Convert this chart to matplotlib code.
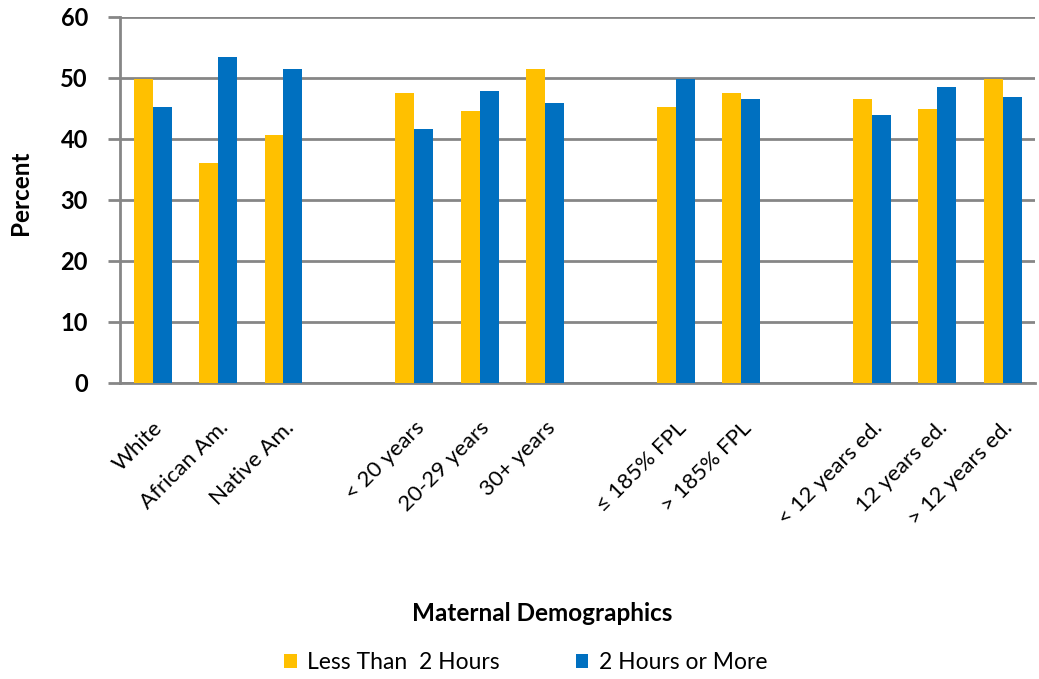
import matplotlib
matplotlib.use("Agg")
import matplotlib.pyplot as plt
from matplotlib.patches import Patch
import numpy as np

plt.rcParams['font.family'] = ['Lato', 'DejaVu Sans']

# categories, "" marks an empty slot between groups
categories = ["White", "African Am.", "Native Am.", "",
              "< 20 years", "20-29 years", "30+ years", "",
              "\u2264 185% FPL", "> 185% FPL", "",
              "< 12 years ed.", "12 years ed.", "> 12 years ed."]
lessThan2 = [49.9, 36.1, 40.7, None, 47.5, 44.6, 51.5, None, 45.2, 47.5, None, 46.6, 44.9, 49.9]
twoOrMore = [45.2, 53.4, 51.5, None, 41.6, 47.9, 45.9, None, 49.9, 46.6, None, 43.9, 48.5, 46.9]
series_names = ["Less Than  2 Hours", "2 Hours or More"]

yellow = "#FFC000"
blue = "#0070C0"
grey = "#868686"

fig = plt.figure(figsize=(10.39, 6.79), dpi=100)
ax = fig.add_axes([0.1155, 0.436, 0.881, 0.539])

x = np.arange(len(categories))
idx = [i for i, c in enumerate(categories) if c != ""]
w = 0.29
ax.bar([x[i] - w / 2 for i in idx], [lessThan2[i] for i in idx], w, color=yellow, zorder=3)
ax.bar([x[i] + w / 2 for i in idx], [twoOrMore[i] for i in idx], w, color=blue, zorder=3)

ax.set_xlim(-0.5, len(categories) - 0.5)
ax.set_ylim(0, 60)
ax.set_yticks(range(0, 61, 10))
ax.yaxis.grid(True, color=grey, linewidth=2, zorder=0)
for s in ["top", "right"]:
    ax.spines[s].set_visible(False)
for s in ["left", "bottom"]:
    ax.spines[s].set_color(grey)
    ax.spines[s].set_linewidth(2)
ax.tick_params(axis="y", length=9, width=2, color=grey, labelsize=17, pad=14)
for lab in ax.get_yticklabels():
    lab.set_fontweight("bold")

ax.set_xticks(x[idx])
ax.set_xticklabels([categories[i] for i in idx], rotation=45, ha="right",
                   rotation_mode="anchor", fontsize=16)
ax.tick_params(axis="x", length=0, pad=25)

fig.text(0.02, 0.716, "Percent", rotation=90, ha="center", va="center",
         fontsize=17.5, fontweight="bold")
fig.text(0.522, 0.097, "Maternal Demographics", ha="center", va="center",
         fontsize=17.5, fontweight="bold")

handles = [Patch(facecolor=yellow), Patch(facecolor=blue)]
fig.legend(handles, series_names, loc="center", bbox_to_anchor=(0.506, 0.024),
           ncol=2, frameon=False, fontsize=16.5, handlelength=0.55, handleheight=0.6,
           handletextpad=0.45, columnspacing=3.3)

fig.savefig("out.png", dpi=100)
